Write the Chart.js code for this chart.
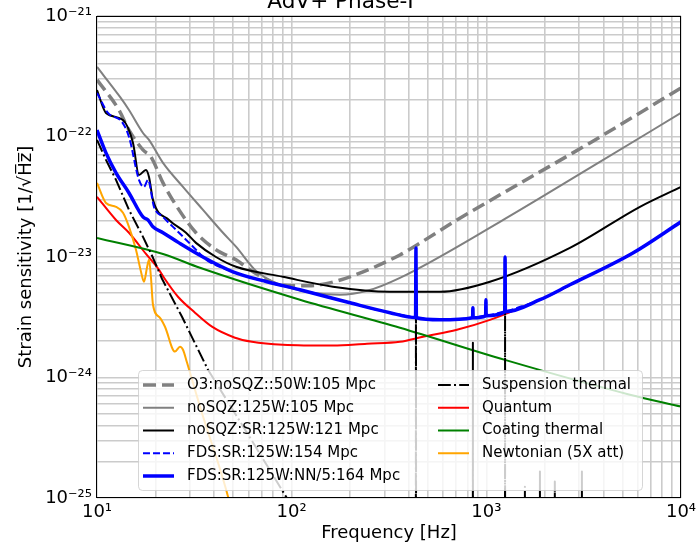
<!DOCTYPE html>
<html>
<head>
<meta charset="utf-8">
<script src="https://cdn.jsdelivr.net/npm/chart.js@4.4.1/dist/chart.umd.min.js"></script>
<style>
  html, body { margin: 0; padding: 0; background: #fff; overflow: hidden; }
  #wrap { position: absolute; left: 0; top: -20px; width: 696px; height: 564px; }
</style>
</head>
<body>
<div id="wrap"><canvas id="chart" width="696" height="564" style="width:696px;height:564px"></canvas></div>
<script>
// ── Tick labels ──
const xMajor = [10, 100, 1000, 10000];
const xTickLabels = ["10¹", "10²", "10³", "10⁴"];
const yMajor = [1e-25, 1e-24, 1e-23, 1e-22, 1e-21];
const yTickLabels = ["10⁻²⁵", "10⁻²⁴", "10⁻²³", "10⁻²²", "10⁻²¹"];

// ── Curves (frequency [Hz], strain [1/rtHz]) ──
const fO3 = [10, 12.97, 14.6, 17.23, 18.94, 21.83, 26.38, 32.25, 40.85, 51.75, 61.08, 74.66, 87.1, 110.3, 139.8, 199.3, 359.9, 440, 706, 1175, 3405, 10000];
const hO3 = [2.95e-22, 1.66e-22, 1.13e-22, 7.74e-23, 6.77e-23, 4.12e-23, 2.46e-23, 1.59e-23, 1.15e-23, 9.48e-24, 7.83e-24, 6.47e-24, 5.88e-24, 5.77e-24, 5.88e-24, 6.85e-24, 1.04e-23, 1.26e-23, 2.03e-23, 3.28e-23, 8.85e-23, 2.53e-22];

const fNoSqz = [10, 13.13, 14.6, 17.23, 18.5, 21.83, 27.65, 35.04, 44.37, 51.75, 66.4, 98, 177, 243.6, 359.9, 1175, 3405, 10000];
const hNoSqz = [3.78e-22, 2.13e-22, 1.66e-22, 1.07e-22, 9.37e-23, 6.04e-23, 3.82e-23, 2.46e-23, 1.59e-23, 1.22e-23, 7.54e-24, 5.55e-24, 4.86e-24, 5.24e-24, 6.72e-24, 1.96e-23, 5.49e-23, 1.57e-22];

const fSR = [10, 11.12, 13.6, 15.31, 16.43, 17.85, 18.5, 19.39, 23.43, 28.65, 32.25, 40.85, 51.75, 90.2, 163, 319.8, 577.9, 1043.5, 2688, 6152, 10000];
const hSR = [2.43e-22, 1.57e-22, 1.37e-22, 8.85e-23, 4.8e-23, 5.28e-23, 4.62e-23, 2.98e-23, 2.03e-23, 1.59e-23, 1.31e-23, 1.0e-23, 8.3e-24, 6.85e-24, 5.66e-24, 5.14e-24, 5.14e-24, 6.23e-24, 1.19e-23, 2.61e-23, 3.82e-23];

const fFds = [10, 11.39, 13.44, 14.6, 16.43, 17.43, 18.28, 19.62, 21.83, 26.38, 32.25, 35.86, 49.94, 74.66, 110.3, 199.3, 319.8, 577.9, 1043, 1885, 2688, 5661, 10000];
const hFds = [2.3e-22, 1.57e-22, 1.32e-22, 9.92e-23, 4.37e-23, 3.82e-23, 4.37e-23, 2.61e-23, 2.15e-23, 1.59e-23, 1.15e-23, 9.66e-24, 7.54e-24, 6.23e-24, 5.35e-24, 4.17e-24, 3.45e-24, 3.01e-24, 3.3e-24, 4.42e-24, 5.88e-24, 1.08e-23, 1.96e-23];

const fFdsNN = [10, 11.12, 12.52, 14.6, 17.23, 18.28, 19.39, 21.83, 26.38, 35.04, 49.94, 74.66, 110.3, 199.3, 319.8, 433, 435, 437, 577.9, 850, 853, 856, 992, 995, 998, 1243, 1248, 1253, 1885, 2688, 5661, 10000];
const hFdsNN = [1.13e-22, 7.31e-23, 4.99e-23, 3.4e-23, 2.15e-23, 2.03e-23, 1.78e-23, 1.59e-23, 1.31e-23, 1.0e-23, 7.54e-24, 6.23e-24, 5.35e-24, 4.17e-24, 3.45e-24, 3.15e-24, 1.19e-23, 3.13e-24, 3.01e-24, 3.13e-24, 3.79e-24, 3.13e-24, 3.25e-24, 4.42e-24, 3.25e-24, 3.51e-24, 1.0e-23, 3.51e-24, 4.42e-24, 5.88e-24, 1.08e-23, 1.96e-23];

const fSusp = [10, 11.12, 12.52, 14.6, 17.23, 19.39, 21.57, 27.33, 37.16, 61.08, 90.2, 110.3, 434, 435, 436, 852, 853, 854, 1247, 1248, 1249, 1577, 1578, 1579, 1884, 1885, 1886, 2247, 2248, 2249, 3096, 3097, 3098, 10000];
const hSusp = [9.37e-23, 6.4e-23, 4.37e-23, 2.46e-23, 1.47e-23, 9.85e-24, 6.6e-24, 3.19e-24, 1.16e-24, 3.17e-25, 1.13e-25, 6.6e-26, 1e-27, 1.15e-23, 1e-27, 1e-27, 1.94e-24, 1e-27, 1e-27, 9.5e-24, 1e-27, 1e-27, 1.24e-25, 1e-27, 1e-27, 1.66e-25, 1e-27, 1e-27, 1.37e-25, 1e-27, 1e-27, 1.66e-25, 1e-27, 1e-27];

const fQuant = [10, 12.52, 14.6, 17.85, 20.82, 22.09, 26.06, 31.87, 38.96, 51.14, 62.54, 90.2, 163, 243.6, 359.9, 472.5, 706.3, 1043.5, 1542, 2305, 2688, 5661, 10000];
const hQuant = [3.16e-23, 2.03e-23, 1.59e-23, 1.06e-23, 7.83e-24, 6.72e-24, 4.68e-24, 3.45e-24, 2.64e-24, 2.14e-24, 1.98e-24, 1.87e-24, 1.84e-24, 1.91e-24, 1.98e-24, 2.18e-24, 2.49e-24, 3.01e-24, 3.86e-24, 5.14e-24, 5.88e-24, 1.08e-23, 1.96e-23];

const fCoat = [10, 21.83, 33.81, 110.3, 359.9, 1246, 5465, 10000];
const hCoat = [1.44e-23, 1.06e-23, 8.14e-24, 4.42e-24, 2.59e-24, 1.4e-24, 7.2e-25, 5.73e-25];

const fNewt = [10, 11.12, 12.52, 13.6, 14.6, 15.86, 16.83, 17.43, 18.06, 18.5, 18.94, 19.39, 21.07, 22.35, 25.15, 26.69, 27.65, 29.0, 31.87, 35.86, 41.83, 47.08, 51.75];
const hNewt = [4.12e-23, 2.81e-23, 2.61e-23, 2.33e-23, 1.78e-23, 1.15e-23, 7.54e-24, 6.23e-24, 8.14e-24, 9.48e-24, 6.72e-24, 4.02e-24, 3.13e-24, 2.64e-24, 1.64e-24, 1.8e-24, 1.7e-24, 1.33e-24, 7.92e-25, 4.22e-25, 1.97e-25, 1.03e-25, 5.5e-26];

// grid at 1..9 per decade
function decadeTicks(lo, hi) {
  const out = [];
  for (let e = lo; e < hi; e++)
    for (let m = 1; m <= 9; m++) out.push(parseFloat(m + "e" + e));
  out.push(parseFloat("1e" + hi));
  return out;
}
const xGrid = decadeTicks(1, 4);
const yGrid = decadeTicks(-25, -21);

const pts = (f, h) => f.map((x, i) => ({ x, y: h[i] }));

Chart.defaults.font.family = '"DejaVu Sans", sans-serif';
Chart.defaults.color = "#000";

// legend in the lower part of the plot, two columns
const insideLegend = {
  id: "insideLegend",
  afterDatasetsDraw(chart) {
    const { ctx, chartArea: ca } = chart;
    const x0 = ca.left + 41, y0 = ca.bottom - 128, w = 504, h = 120;
    ctx.save();
    ctx.fillStyle = "rgba(255,255,255,0.8)";
    ctx.strokeStyle = "rgba(204,204,204,0.8)";
    ctx.lineWidth = 1;
    ctx.beginPath();
    ctx.roundRect(x0 + 0.5, y0 + 0.5, w, h, 4);
    ctx.fill();
    ctx.stroke();
    ctx.font = '15px "DejaVu Sans"';
    ctx.textBaseline = "middle";
    ctx.textAlign = "left";
    chart.data.datasets.forEach((ds, i) => {
      const col = i < 5 ? 0 : 1;
      const row = col ? i - 5 : i;
      const lx = x0 + (col ? 300 : 5);
      const ly = y0 + 15 + row * 22.75;
      ctx.save();
      ctx.strokeStyle = ds.borderColor;
      ctx.lineWidth = ds.borderWidth;
      ctx.setLineDash(ds.borderDash || []);
      ctx.beginPath();
      ctx.moveTo(lx, ly);
      ctx.lineTo(lx + 31, ly);
      ctx.stroke();
      ctx.restore();
      ctx.fillStyle = "#000";
      ctx.fillText(ds.label, lx + 44, ly);
    });
    ctx.restore();
  }
};

// axes frame
const frame = {
  id: "frame",
  afterDraw(chart) {
    const { ctx, chartArea: ca } = chart;
    ctx.save();
    ctx.strokeStyle = "#000";
    ctx.lineWidth = 1;
    ctx.strokeRect(Math.round(ca.left) - 0.5, Math.round(ca.top) + 0.5, Math.round(ca.width), Math.round(ca.height) - 1);
    ctx.restore();
  }
};

const gridStyle = { color: "#cbcbcb", lineWidth: 1.6, drawTicks: false };

new Chart(document.getElementById("chart"), {
  type: "line",
  data: {
    datasets: [
      { label: "O3:noSQZ::50W:105 Mpc", data: pts(fO3, hO3), borderColor: "#808080", borderWidth: 3.5, borderDash: [13, 6], order: 8 },
      { label: "noSQZ:125W:105 Mpc", data: pts(fNoSqz, hNoSqz), borderColor: "#808080", borderWidth: 2, order: 7 },
      { label: "noSQZ:SR:125W:121 Mpc", data: pts(fSR, hSR), borderColor: "#000000", borderWidth: 2, order: 3 },
      { label: "FDS:SR:125W:154 Mpc", data: pts(fFds, hFds), borderColor: "#0000ff", borderWidth: 2, borderDash: [7, 3], order: 2 },
      { label: "FDS:SR:125W:NN/5:164 Mpc", data: pts(fFdsNN, hFdsNN), borderColor: "#0000ff", borderWidth: 3.5, order: 1 },
      { label: "Suspension thermal", data: pts(fSusp, hSusp), borderColor: "#000000", borderWidth: 2, borderDash: [12.8, 3.2, 2, 3.2], tension: 0, cubicInterpolationMode: "default", order: 4 },
      { label: "Quantum", data: pts(fQuant, hQuant), borderColor: "#ff0000", borderWidth: 2, order: 6 },
      { label: "Coating thermal", data: pts(fCoat, hCoat), borderColor: "#008000", borderWidth: 2, order: 5 },
      { label: "Newtonian (5X att)", data: pts(fNewt, hNewt), borderColor: "#ffa500", borderWidth: 2, order: 5 }
    ]
  },
  options: {
    responsive: false,
    maintainAspectRatio: false,
    animation: false,
    events: [],
    layout: { padding: { left: 0, right: 15, top: 0, bottom: 0 } },
    elements: {
      point: { radius: 0 },
      line: { fill: false, cubicInterpolationMode: "monotone", borderJoinStyle: "round" }
    },
    plugins: {
      legend: { display: false },
      tooltip: { enabled: false },
      title: {
        display: true,
        text: "AdV+ Phase-I",
        color: "#000",
        font: { size: 21.6, weight: "normal" },
        padding: { top: 9.4, bottom: 0.7 }
      }
    },
    scales: {
      x: {
        type: "logarithmic",
        min: 10,
        max: 10000,
        afterBuildTicks: s => { s.ticks = xGrid.map(v => ({ value: v })); },
        afterFit: s => { s.height = 46; s.paddingLeft = 0; s.paddingRight = 0; },
        ticks: {
          autoSkip: false, maxRotation: 0, padding: 4, color: "#000", font: { size: 18 },
          callback: v => { const i = xMajor.indexOf(v); return i >= 0 ? xTickLabels[i] : ""; }
        },
        grid: gridStyle,
        border: { display: false },
        title: { display: true, text: "Frequency [Hz]", color: "#000", font: { size: 18 }, padding: { top: 0, bottom: 0 } }
      },
      y: {
        type: "logarithmic",
        min: 1e-25,
        max: 1e-21,
        afterBuildTicks: s => { s.ticks = yGrid.map(v => ({ value: v })); },
        afterFit: s => { s.width = 97; s.paddingTop = 0; s.paddingBottom = 0; },
        ticks: {
          autoSkip: false, padding: 5, color: "#000", font: { size: 18 },
          callback: v => { const i = yMajor.indexOf(v); return i >= 0 ? yTickLabels[i] : ""; }
        },
        grid: gridStyle,
        border: { display: false },
        title: { display: true, text: "Strain sensitivity [1/√H̅z̅]", color: "#000", font: { size: 18 }, padding: { top: 16, bottom: 0 } }
      }
    }
  },
  plugins: [insideLegend, frame]
});
</script>
</body>
</html>
